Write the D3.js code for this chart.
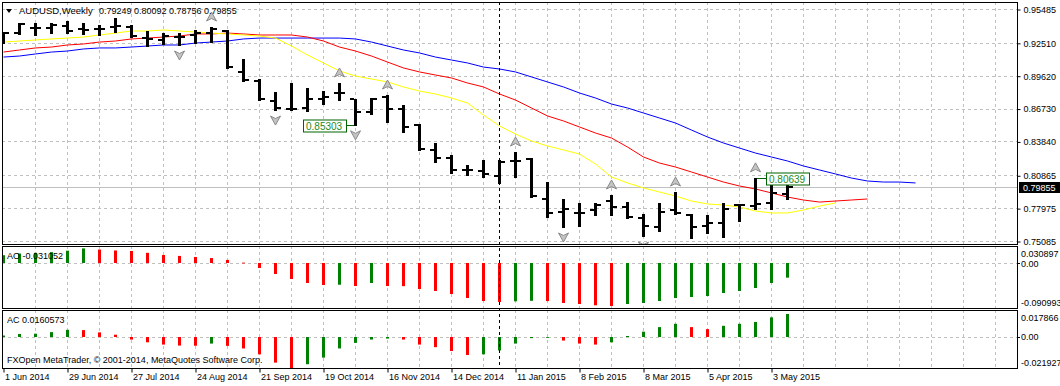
<!DOCTYPE html>
<html>
<head>
<meta charset="utf-8">
<script src="https://cdn.jsdelivr.net/npm/d3@7/dist/d3.min.js"></script>
<style>
  body { margin: 0; background: #fff; }
  svg text { font-family: "Liberation Sans", Arial, sans-serif; font-size: 9px; fill: #000; }
</style>
</head>
<body>
<div id="chart"></div>
<script>
//--------------------------- Data (weekly bars, 1 Jun 2014 .. 10 May 2015)

var tickWeeks = [0, 4, 8, 12, 16, 20, 24, 28, 32, 36, 40, 44, 48];
var tickLabels = ["1 Jun 2014", "29 Jun 2014", "27 Jul 2014", "24 Aug 2014", "21 Sep 2014",
  "19 Oct 2014", "16 Nov 2014", "14 Dec 2014", "11 Jan 2015", "8 Feb 2015",
  "8 Mar 2015", "5 Apr 2015", "3 May 2015"];

var open = [0.9294, 0.9337, 0.9381, 0.9381, 0.9399, 0.9373, 0.9373, 0.9390, 0.9390, 0.9294,
  0.9276, 0.9302, 0.9320, 0.9337, 0.9355, 0.8995, 0.8915, 0.8740, 0.8669, 0.8678,
  0.8757, 0.8810, 0.8757, 0.8643, 0.8775, 0.8669, 0.8529, 0.8309, 0.8238, 0.8133,
  0.8124, 0.8080, 0.8212, 0.8230, 0.7878, 0.7764, 0.7755, 0.7781, 0.7860, 0.7807,
  0.7711, 0.7632, 0.7781, 0.7737, 0.7640, 0.7667, 0.7825, 0.7816, 0.7843, 0.79249];
var high = [0.9346, 0.9425, 0.9425, 0.9425, 0.9443, 0.9425, 0.9408, 0.9469, 0.9408, 0.9355,
  0.9337, 0.9337, 0.9364, 0.9390, 0.9364, 0.9109, 0.8933, 0.8819, 0.8898, 0.8854,
  0.8827, 0.8898, 0.8757, 0.8766, 0.8792, 0.8704, 0.8537, 0.8370, 0.8265, 0.8177,
  0.8221, 0.8221, 0.8291, 0.8238, 0.8027, 0.7878, 0.7843, 0.7843, 0.7913, 0.7851,
  0.7746, 0.7843, 0.7939, 0.7746, 0.7737, 0.7843, 0.7834, 0.80639, 0.8045, 0.80092];
var low = [0.9250, 0.9329, 0.9320, 0.9337, 0.9337, 0.9329, 0.9320, 0.9346, 0.9302, 0.9223,
  0.9241, 0.9232, 0.9250, 0.9258, 0.9030, 0.8915, 0.8748, 0.8660, 0.8660, 0.8652,
  0.8713, 0.8748, 0.85303, 0.8625, 0.8555, 0.8467, 0.8309, 0.8203, 0.8106, 0.8089,
  0.8071, 0.8019, 0.8071, 0.7895, 0.7720, 0.7632, 0.7640, 0.7737, 0.7737, 0.7711,
  0.7552, 0.7596, 0.7746, 0.7535, 0.7579, 0.7544, 0.7684, 0.7790, 0.7790, 0.78756];
var close = [0.9337, 0.9417, 0.9381, 0.9408, 0.9355, 0.9364, 0.9373, 0.9399, 0.9311, 0.9285,
  0.9311, 0.9302, 0.9337, 0.9373, 0.9039, 0.8924, 0.8757, 0.8678, 0.8669, 0.8757,
  0.8775, 0.8810, 0.8643, 0.8757, 0.8669, 0.8511, 0.8317, 0.8238, 0.8133, 0.8133,
  0.8098, 0.8203, 0.8212, 0.7904, 0.7755, 0.7790, 0.7755, 0.7825, 0.7807, 0.7720,
  0.7640, 0.7764, 0.7755, 0.7632, 0.7667, 0.7790, 0.7825, 0.7834, 0.7931, 0.79855];

// alligator lines, already shifted forward (jaw +8, teeth +5, lips +3 weeks)
var jaw = [0.9126, 0.9135, 0.9153, 0.9170, 0.9179, 0.9197, 0.9206, 0.9206, 0.9214, 0.9223,
  0.9232, 0.9232, 0.9249, 0.9258, 0.9267, 0.9285, 0.9293, 0.9293, 0.9293, 0.9293,
  0.9293, 0.9293, 0.9285, 0.9258, 0.9223, 0.9188, 0.9162, 0.9126, 0.9100, 0.9074,
  0.9038, 0.9021, 0.8995, 0.8951, 0.8907, 0.8863, 0.8810, 0.8766, 0.8713, 0.8678,
  0.8634, 0.8590, 0.8546, 0.8484, 0.8423, 0.8370, 0.8326, 0.8282, 0.8247, 0.8212,
  0.8168, 0.8133, 0.8098, 0.8062, 0.8036, 0.8027, 0.8027, 0.8019];
var teeth = [0.9170, 0.9188, 0.9206, 0.9214, 0.9232, 0.9241, 0.9258, 0.9267, 0.9285, 0.9293,
  0.9302, 0.9311, 0.9329, 0.9329, 0.9337, 0.9329, 0.9320, 0.9320, 0.9320, 0.9302,
  0.9267, 0.9214, 0.9179, 0.9135, 0.9082, 0.9030, 0.8995, 0.8968, 0.8942, 0.8898,
  0.8863, 0.8801, 0.8748, 0.8678, 0.8608, 0.8564, 0.8511, 0.8458, 0.8414, 0.8335,
  0.8247, 0.8194, 0.8159, 0.8115, 0.8071, 0.8027, 0.7992, 0.7966, 0.7931, 0.7895,
  0.7869, 0.7851, 0.7860, 0.7869, 0.7878];
var lips = [0.9258, 0.9267, 0.9276, 0.9285, 0.9293, 0.9302, 0.9320, 0.9337, 0.9355, 0.9355,
  0.9364, 0.9355, 0.9346, 0.9337, 0.9329, 0.9320, 0.9311, 0.9293, 0.9223, 0.9144,
  0.9074, 0.9003, 0.8959, 0.8933, 0.8907, 0.8863, 0.8827, 0.8801, 0.8766, 0.8722,
  0.8616, 0.8520, 0.8449, 0.8388, 0.8344, 0.8309, 0.8273, 0.8186, 0.8071, 0.8019,
  0.7975, 0.7939, 0.7904, 0.7860, 0.7834, 0.7825, 0.7807, 0.7772, 0.7755, 0.7755,
  0.7781, 0.7816, 0.7843];

var fractalsUp = [13, 21, 24, 32, 38, 42, 47];
var fractalsDown = [11, 17, 22, 35, 40, 43];

var ao = [0.0165, 0.0200, 0.0215, 0.0230, 0.0260, 0.0309, 0.0285, 0.0265, 0.0255, 0.0215,
  0.0170, 0.0150, 0.0128, 0.0105, 0.0065, 0.0008, -0.0106, -0.0233, -0.0339, -0.0423,
  -0.0466, -0.0460, -0.0487, -0.0423, -0.0487, -0.0490, -0.0550, -0.0592, -0.0656, -0.0741,
  -0.0804, -0.0825, -0.0810, -0.0800, -0.0806, -0.0846, -0.0868, -0.0895, -0.0910, -0.0868,
  -0.0846, -0.0804, -0.0741, -0.0720, -0.0698, -0.0635, -0.0592, -0.0529, -0.0423, -0.031052];
var ac = [0.0010, 0.0021, 0.0023, 0.0034, 0.0050, 0.0048, 0.0032, 0.0016, -0.0018, -0.0037,
  -0.0053, -0.0060, -0.0061, -0.0046, -0.0062, -0.0080, -0.0121, -0.0179, -0.021927, -0.0190,
  -0.0144, -0.0080, -0.0041, -0.0018, -0.0011, -0.0018, -0.0053, -0.0071, -0.0098, -0.0126,
  -0.0121, -0.0094, -0.0046, -0.0008, -0.0003, -0.0025, -0.0046, -0.0053, -0.0037, 0.0007,
  0.0037, 0.0069, 0.0092, 0.0069, 0.0055, 0.0078, 0.0092, 0.0105, 0.0137, 0.0160573];

var priceTicks = [0.95485, 0.92510, 0.89620, 0.86730, 0.83840, 0.80865, 0.77975, 0.75085];
var aoTicks = [0.030897, 0, -0.090993];
var acTicks = [0.017866, 0, -0.021927];
var lineWeek = 31;
var priceMarks = [{ i: 22, v: 0.85303, side: "left" }, { i: 47, v: 0.80639, side: "right" }];

//--------------------------- SVG and panels

var W = 1060, H = 386;
var left = 2, right = 1017;
var pMain = { top: 2, bottom: 244 };
var pAo = { top: 246, bottom: 308 };
var pAc = { top: 310, bottom: 368 };

var svg = d3.select("#chart").append("svg")
  .attr("width", W)
  .attr("height", H);

var x = d3.scaleLinear().domain([0, 1]).range([3, 19]);
var y = d3.scaleLinear().domain([0.75085, 0.95485]).range([241, 9]);
var yAo = d3.scaleLinear().domain([-0.090993, 0.030897]).range([306, 248.4]);
var yAc = d3.scaleLinear().domain([-0.021927, 0.017866]).range([368.4, 311.4]);

var green = "#008000", red = "#ff0000";
var gridColor = "#c0c0c0";

var defs = svg.append("defs");
function panel(p, id) {
  defs.append("clipPath").attr("id", id).append("rect")
    .attr("x", left).attr("y", p.top).attr("width", right - left).attr("height", p.bottom - p.top);
  return svg.append("g").attr("clip-path", "url(#" + id + ")");
}
var main = panel(pMain, "cMain");
var gAo = panel(pAo, "cAo");
var gAc = panel(pAc, "cAc");

//--------------------------- Grids

var vGrid = d3.range(2, 64, 2);
[[main, pMain], [gAo, pAo], [gAc, pAc]].forEach(function (pp) {
  pp[0].selectAll("line.vg").data(vGrid).enter().append("line")
    .attr("x1", function (d) { return x(d) + 0.5; })
    .attr("x2", function (d) { return x(d) + 0.5; })
    .attr("y1", pp[1].top).attr("y2", pp[1].bottom)
    .style("stroke", gridColor).style("stroke-dasharray", "3,3");
});

main.selectAll("line.hg").data(priceTicks).enter().append("line")
  .attr("x1", left).attr("x2", right)
  .attr("y1", function (d) { return Math.round(y(d)) + 0.5; })
  .attr("y2", function (d) { return Math.round(y(d)) + 0.5; })
  .style("stroke", gridColor).style("stroke-dasharray", "3,3");

gAo.append("line").attr("x1", left).attr("x2", right)
  .attr("y1", Math.round(yAo(0)) + 0.5).attr("y2", Math.round(yAo(0)) + 0.5)
  .style("stroke", gridColor).style("stroke-dasharray", "3,3");
gAc.append("line").attr("x1", left).attr("x2", right)
  .attr("y1", Math.round(yAc(0)) + 0.5).attr("y2", Math.round(yAc(0)) + 0.5)
  .style("stroke", gridColor).style("stroke-dasharray", "3,3");

// bid line
var bid = close[close.length - 1];
main.append("line").attr("x1", left).attr("x2", right)
  .attr("y1", Math.round(y(bid)) + 0.5).attr("y2", Math.round(y(bid)) + 0.5)
  .style("stroke", "#c0c0c0");

//--------------------------- Alligator lines

var lineGen = d3.line()
  .x(function (d, i) { return x(i) + 0.5; })
  .y(function (d) { return y(d); });

[[jaw, "#0000ff"], [teeth, "#ff0000"], [lips, "#ffff00"]].forEach(function (s) {
  main.append("path")
    .attr("d", lineGen(s[0]))
    .style("fill", "none")
    .style("stroke", s[1])
    .style("stroke-width", 1);
});

//--------------------------- OHLC bars

var bars = open.map(function (o, i) {
  return { i: i, o: o, h: high[i], l: low[i], c: close[i] };
});

var gb = main.selectAll("g.bar").data(bars).enter().append("g");
gb.append("line")
  .attr("x1", function (d) { return x(d.i) + 0.5; })
  .attr("x2", function (d) { return x(d.i) + 0.5; })
  .attr("y1", function (d) { return Math.round(y(d.h)); })
  .attr("y2", function (d) { return Math.round(y(d.l)) + 1; })
  .style("stroke", "#000").style("stroke-width", 3);
gb.append("line")
  .attr("x1", function (d) { return x(d.i) - 5; })
  .attr("x2", function (d) { return x(d.i) - 1; })
  .attr("y1", function (d) { return Math.round(y(d.o)); })
  .attr("y2", function (d) { return Math.round(y(d.o)); })
  .style("stroke", "#000").style("stroke-width", 2);
gb.append("line")
  .attr("x1", function (d) { return x(d.i) + 2; })
  .attr("x2", function (d) { return x(d.i) + 6; })
  .attr("y1", function (d) { return Math.round(y(d.c)); })
  .attr("y2", function (d) { return Math.round(y(d.c)); })
  .style("stroke", "#000").style("stroke-width", 2);

//--------------------------- Fractals

function arrowUp(cx, cy) {
  return "M" + cx + "," + (cy - 5) + "L" + (cx + 5) + "," + (cy + 4) +
    "L" + cx + "," + (cy + 1.5) + "L" + (cx - 5) + "," + (cy + 4) + "Z";
}
function arrowDown(cx, cy) {
  return "M" + cx + "," + (cy + 5) + "L" + (cx + 5) + "," + (cy - 4) +
    "L" + cx + "," + (cy - 1.5) + "L" + (cx - 5) + "," + (cy - 4) + "Z";
}
main.selectAll("path.fu").data(fractalsUp).enter().append("path")
  .attr("d", function (i) { return arrowUp(x(i) + 0.5, y(high[i]) - 10); })
  .style("fill", "#c4c4c4").style("stroke", "#8a8a8a").style("stroke-width", 1);
main.selectAll("path.fd").data(fractalsDown).enter().append("path")
  .attr("d", function (i) { return arrowDown(x(i) + 0.5, y(low[i]) + 10); })
  .style("fill", "#c4c4c4").style("stroke", "#8a8a8a").style("stroke-width", 1);

//--------------------------- Price labels on bars

priceMarks.forEach(function (m) {
  var bx = x(m.i), by = Math.round(y(m.v)) + 0.5;
  var bw = 43, bh = 12;
  var rx = m.side === "left" ? bx - 9 - bw : bx + 11;
  main.append("line")
    .attr("x1", m.side === "left" ? rx + bw : bx + 2)
    .attr("x2", m.side === "left" ? bx - 1 : rx)
    .attr("y1", by).attr("y2", by)
    .style("stroke", "#006400");
  main.append("rect")
    .attr("x", rx + 0.5).attr("y", by - 5.5)
    .attr("width", bw).attr("height", bh)
    .style("fill", "#fff").style("stroke", "#006400");
  main.append("text")
    .attr("x", rx + 3).attr("y", by + 4.5)
    .style("fill", "#1e8a1e")
    .style("font-size", "10px")
    .text(m.v.toFixed(5));
});

//--------------------------- AO / AC histograms

function histo(g, data, scale) {
  g.selectAll("rect.h").data(data).enter().append("rect")
    .attr("x", function (d, i) { return x(i) - 1; })
    .attr("width", 3)
    .attr("y", function (d) { return Math.min(scale(d), scale(0)); })
    .attr("height", function (d) { return Math.max(0.8, Math.abs(scale(d) - scale(0))); })
    .style("fill", function (d, i) { return (i === 0 || d >= data[i - 1]) ? green : red; });
}
histo(gAo, ao, yAo);
histo(gAc, ac, yAc);

//--------------------------- Vertical line

svg.append("line")
  .attr("x1", x(lineWeek) + 0.5).attr("x2", x(lineWeek) + 0.5)
  .attr("y1", pMain.top).attr("y2", pAc.bottom)
  .style("stroke", "#000").style("stroke-dasharray", "3,3");

//--------------------------- Frames

[pMain, pAo, pAc].forEach(function (p) {
  svg.append("rect")
    .attr("x", left + 0.5).attr("y", p.top + 0.5)
    .attr("width", right - left).attr("height", p.bottom - p.top)
    .style("fill", "none").style("stroke", "#000");
});

//--------------------------- Axes

var yAxis = d3.axisRight(y)
  .tickValues(priceTicks)
  .tickFormat(d3.format(".5f"))
  .tickSize(3);
var ya = svg.append("g").attr("transform", "translate(" + (right + 0.5) + ",0.5)").call(yAxis);
ya.select(".domain").remove();
ya.selectAll("text").style("font-family", "Liberation Sans, Arial, sans-serif").style("font-size", "9px");

// bid box
svg.append("rect").attr("x", right + 2).attr("y", Math.round(y(bid)) - 5)
  .attr("width", W - right - 2).attr("height", 11).style("fill", "#000");
svg.append("text").attr("x", right + 6).attr("y", Math.round(y(bid)) + 4)
  .style("fill", "#fff").text(bid.toFixed(5));

function subAxis(ticks, scale, p, fmt) {
  ticks.forEach(function (v) {
    var ty = Math.max(p.top + 7, Math.min(p.bottom - 6, scale(v)));
    svg.append("text").attr("x", right + 4).attr("y", ty + 3.5).text(fmt(v));
    if (v === 0) {
      svg.append("line").attr("x1", right).attr("x2", right + 3)
        .attr("y1", Math.round(scale(v)) + 0.5).attr("y2", Math.round(scale(v)) + 0.5)
        .style("stroke", "#000");
    }
  });
}
subAxis(aoTicks, yAo, pAo, function (v) { return v === 0 ? "0.00" : v.toFixed(6); });
subAxis(acTicks, yAc, pAc, function (v) { return v === 0 ? "0.00" : v.toFixed(6); });

var xAxis = d3.axisBottom(x)
  .tickValues(tickWeeks)
  .tickFormat(function (d, k) { return tickLabels[k]; })
  .tickSize(4)
  .tickPadding(3);
var xa = svg.append("g").attr("transform", "translate(0.5," + (pAc.bottom + 0.5) + ")").call(xAxis);
xa.select(".domain").remove();
xa.selectAll("text")
  .attr("text-anchor", "start")
  .attr("x", 1)
  .attr("dy", "0.5em")
  .style("font-family", "Liberation Sans, Arial, sans-serif").style("font-size", "9px");

//--------------------------- Titles

svg.append("path").attr("d", "M6,9L12,9L9,13Z").style("fill", "#000");
var t = svg.append("text").attr("x", 19).attr("y", 14);
t.append("tspan").style("font-size", "9.5px").text("AUDUSD,Weekly");
t.append("tspan").attr("x", 99).text([open, high, low, close].map(function (a) {
  return a[a.length - 1].toFixed(5);
}).join(" "));

svg.append("text").attr("x", 7).attr("y", 259).text("AO " + ao[ao.length - 1].toFixed(6));
svg.append("text").attr("x", 7).attr("y", 323).text("AC " + ac[ac.length - 1].toFixed(7));
svg.append("text").attr("x", 7).attr("y", 363).text("FXOpen MetaTrader, \u00a9 2001-2014, MetaQuotes Software Corp.");
</script>
</body>
</html>
